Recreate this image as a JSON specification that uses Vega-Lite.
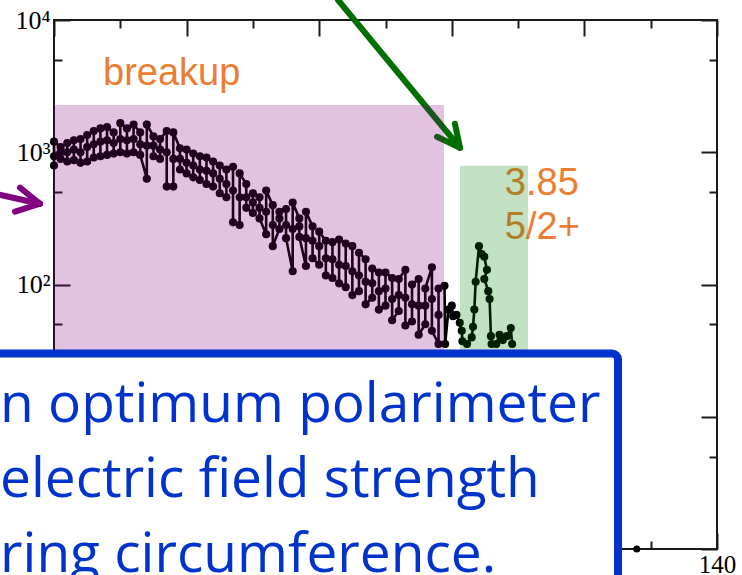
{
  "$schema": "https://vega.github.io/schema/vega-lite/v6.json",
  "width": 663,
  "height": 529,
  "autosize": {"type": "none"},
  "padding": {"left": 54, "top": 20, "right": 25, "bottom": 26},
  "background": "white",
  "config": {
    "view": {"stroke": "#1a1a1a", "strokeWidth": 2},
    "axis": {"grid": false, "domain": false, "labels": false, "tickColor": "#1a1a1a", "tickWidth": 2, "labelFlush": false, "labelOverlap": false}
  },
  "resolve": {"axis": {"x": "independent", "y": "independent"}},
  "datasets": {
    "main": [
      {"x":40,"v":794},{"x":40,"v":933},{"x":40,"v":1202},
      {"x":41,"v":1096},{"x":41,"v":1000},{"x":41,"v":891},
      {"x":42,"v":851},{"x":42,"v":1000},{"x":42,"v":1175},
      {"x":43,"v":1230},{"x":43,"v":1047},{"x":43,"v":871},
      {"x":44,"v":832},{"x":44,"v":1000},{"x":44,"v":1259},
      {"x":45,"v":1349},{"x":45,"v":1096},{"x":45,"v":851},
      {"x":46,"v":912},{"x":46,"v":1148},{"x":46,"v":1445},
      {"x":47,"v":1514},{"x":47,"v":1202},{"x":47,"v":933},
      {"x":48,"v":955},{"x":48,"v":1230},{"x":48,"v":1549},
      {"x":49,"v":1413},{"x":49,"v":1175},{"x":49,"v":977},
      {"x":50,"v":1000},{"x":50,"v":1259},{"x":50,"v":1660},
      {"x":51,"v":1514},{"x":51,"v":1230},{"x":51,"v":977},
      {"x":52,"v":1000},{"x":52,"v":1259},{"x":52,"v":1622},
      {"x":53,"v":1413},{"x":53,"v":1148},{"x":53,"v":955},
      {"x":54,"v":631},{"x":54,"v":1122},{"x":54,"v":1622},
      {"x":55,"v":1318},{"x":55,"v":1122},{"x":55,"v":933},
      {"x":56,"v":891},{"x":56,"v":1047},{"x":56,"v":1259},
      {"x":57,"v":1445},{"x":57,"v":1000},{"x":57,"v":550},
      {"x":58,"v":550},{"x":58,"v":891},{"x":58,"v":1413},
      {"x":59,"v":1072},{"x":59,"v":891},{"x":59,"v":741},
      {"x":60,"v":692},{"x":60,"v":832},{"x":60,"v":1047},
      {"x":61,"v":977},{"x":61,"v":794},{"x":61,"v":646},
      {"x":62,"v":617},{"x":62,"v":741},{"x":62,"v":933},
      {"x":63,"v":912},{"x":63,"v":724},{"x":63,"v":575},
      {"x":64,"v":550},{"x":64,"v":692},{"x":64,"v":851},
      {"x":65,"v":794},{"x":65,"v":631},{"x":65,"v":490},
      {"x":66,"v":457},{"x":66,"v":575},{"x":66,"v":741},
      {"x":67,"v":776},{"x":67,"v":513},{"x":67,"v":295},
      {"x":68,"v":282},{"x":68,"v":457},{"x":68,"v":692},
      {"x":69,"v":575},{"x":69,"v":457},{"x":69,"v":380},
      {"x":70,"v":347},{"x":70,"v":417},{"x":70,"v":490},
      {"x":71,"v":457},{"x":71,"v":380},{"x":71,"v":316},
      {"x":72,"v":240},{"x":72,"v":355},{"x":72,"v":513},
      {"x":73,"v":398},{"x":73,"v":282},{"x":73,"v":195},
      {"x":74,"v":263},{"x":74,"v":316},{"x":74,"v":355},
      {"x":75,"v":372},{"x":75,"v":282},{"x":75,"v":224},
      {"x":76,"v":126},{"x":76,"v":263},{"x":76,"v":417},
      {"x":77,"v":316},{"x":77,"v":275},{"x":77,"v":229},
      {"x":78,"v":138},{"x":78,"v":224},{"x":78,"v":355},
      {"x":79,"v":275},{"x":79,"v":214},{"x":79,"v":158},
      {"x":80,"v":141},{"x":80,"v":195},{"x":80,"v":251},
      {"x":81,"v":214},{"x":81,"v":158},{"x":81,"v":117},
      {"x":82,"v":112},{"x":82,"v":155},{"x":82,"v":209},
      {"x":83,"v":219},{"x":83,"v":141},{"x":83,"v":102},
      {"x":84,"v":95.5},{"x":84,"v":138},{"x":84,"v":204},
      {"x":85,"v":195},{"x":85,"v":126},{"x":85,"v":83.2},
      {"x":86,"v":89.1},{"x":86,"v":117},{"x":86,"v":174},
      {"x":87,"v":155},{"x":87,"v":105},{"x":87,"v":70.8},
      {"x":88,"v":79.4},{"x":88,"v":102},{"x":88,"v":132},
      {"x":89,"v":123},{"x":89,"v":89.1},{"x":89,"v":64.6},
      {"x":90,"v":69.2},{"x":90,"v":93.3},{"x":90,"v":123},
      {"x":91,"v":112},{"x":91,"v":77.6},{"x":91,"v":53.7},
      {"x":92,"v":63.1},{"x":92,"v":83.2},{"x":92,"v":110},
      {"x":93,"v":129},{"x":93,"v":79.4},{"x":93,"v":49.0},
      {"x":94,"v":52.5},{"x":94,"v":70.8},{"x":94,"v":100},
      {"x":95,"v":110},{"x":95,"v":69.2},{"x":95,"v":41.7},
      {"x":96,"v":50.1},{"x":96,"v":69.2},{"x":96,"v":93.3},
      {"x":97,"v":135},{"x":97,"v":77.6},{"x":97,"v":44.7},
      {"x":98,"v":35.5},{"x":98,"v":58.9},{"x":98,"v":93.3},
      {"x":98.9,"v":97.7},{"x":99.0,"v":35.5},{"x":99.5,"v":64.6},
      {"x":100.0,"v":69.2},{"x":100.2,"v":57.5},{"x":100.7,"v":58.9},
      {"x":101.2,"v":51.3},{"x":101.5,"v":44.7},{"x":101.6,"v":37.2},
      {"x":102.3,"v":35.5},{"x":103.0,"v":39.8},{"x":103.2,"v":47.9},
      {"x":103.4,"v":64.6},{"x":103.6,"v":105},{"x":104.1,"v":195},
      {"x":104.5,"v":170},{"x":104.9,"v":162},{"x":105.3,"v":129},
      {"x":104.9,"v":110},{"x":105.5,"v":89.1},{"x":105.7,"v":77.6},
      {"x":105.9,"v":40.7},{"x":106.0,"v":35.5},{"x":106.7,"v":35.5},
      {"x":107.2,"v":41.7},{"x":107.7,"v":38.0},{"x":108.3,"v":40.7},
      {"x":108.9,"v":46.8},{"x":109.1,"v":35.5}
    ],
    "lone": [{"x":127.9,"v":1}],
    "breakup": [{"x":47.4,"v":3228,"t":"breakup"}],
    "orange": [{"x":108.0,"v":477,"t":"3.85"},{"x":108.0,"v":219,"t":"5/2+"}],
    "garrow": [
      {"x":82.84,"v":14160,"x2":101.24,"v2":1081},
      {"x":97.77,"v":1309,"x2":101.24,"v2":1081},
      {"x":100.48,"v":1641,"x2":101.24,"v2":1081}
    ],
    "parrow": [
      {"x":31.1,"v":486,"x2":37.89,"v2":408},
      {"x":34.87,"v":540,"x2":37.89,"v2":408},
      {"x":34.12,"v":356,"x2":37.89,"v2":408}
    ],
    "bands": [
      {"x":40,"x2":98.82,"v":1,"v2":2281,"c":"breakup"},
      {"x":101.24,"x2":111.49,"v":1,"v2":791,"c":"3.85"}
    ],
    "box": [{"x":28.8,"x2":125.07,"v":0.42,"v2":30.1}],
    "boxtext": [{"x":31.86,"v":9.08,"t":"n optimum polarimeter\nelectric field strength\nring circumference."}]
  },
  "layer": [
    {
      "data": {"name": "main"},
      "mark": {"type": "line", "color": "#000000", "strokeWidth": 2.6},
      "encoding": {
        "x": {"field": "x", "type": "quantitative", "scale": {"domain": [40, 140], "nice": false, "zero": false},
              "axis": {"orient": "bottom", "values": [40, 60, 80, 100, 120, 140], "labels": true, "ticks": false, "labelPadding": 3, "title": null,
                       "labelFont": "Liberation Serif", "labelFontSize": 25, "labelColor": "#000000"}},
        "y": {"field": "v", "type": "quantitative", "scale": {"type": "log", "domain": [1, 10000], "nice": false},
              "axis": {"orient": "left", "values": [1, 10, 100, 1000, 10000], "labels": true, "ticks": false, "labelPadding": 4, "title": null,
                       "labelFont": "Liberation Serif", "labelFontSize": 26, "labelColor": "#000000",
                       "labelExpr": "'10' + ['⁰','¹','²','³','⁴'][round(log(datum.value)/LN10)]"}},
        "order": {"value": null}
      }
    },
    {
      "data": {"name": "main"},
      "mark": {"type": "point", "filled": true, "color": "#000000", "size": 66, "opacity": 1},
      "encoding": {
        "x": {"field": "x", "type": "quantitative", "scale": {"domain": [40, 140], "nice": false, "zero": false},
              "axis": {"orient": "bottom", "values": [40, 60, 80, 100, 120, 140], "tickSize": -16, "title": null}},
        "y": {"field": "v", "type": "quantitative", "scale": {"type": "log", "domain": [1, 10000], "nice": false},
              "axis": {"orient": "left", "values": [1, 10, 100, 1000, 10000], "tickSize": -16, "title": null}}
      }
    },
    {
      "data": {"name": "lone"},
      "mark": {"type": "point", "filled": true, "color": "#000000", "size": 50, "opacity": 1},
      "encoding": {
        "x": {"field": "x", "type": "quantitative", "scale": {"domain": [40, 140], "nice": false, "zero": false},
              "axis": {"orient": "bottom", "values": [50, 70, 90, 110, 130], "tickSize": -8, "title": null}},
        "y": {"field": "v", "type": "quantitative", "scale": {"type": "log", "domain": [1, 10000], "nice": false},
              "axis": {"orient": "left", "values": [5, 50, 500, 5000], "tickSize": -8, "title": null}}
      }
    },
    {
      "data": {"name": "breakup"},
      "mark": {"type": "text", "font": "Liberation Sans", "fontSize": 38, "color": "#ED7D31", "align": "left", "baseline": "alphabetic"},
      "encoding": {
        "x": {"field": "x", "type": "quantitative", "scale": {"domain": [40, 140], "nice": false, "zero": false},
              "axis": {"orient": "top", "values": [40, 60, 80, 100, 120, 140], "tickSize": -16, "title": null}},
        "y": {"field": "v", "type": "quantitative", "scale": {"type": "log", "domain": [1, 10000], "nice": false},
              "axis": {"orient": "right", "values": [1, 10, 100, 1000, 10000], "tickSize": -16, "title": null}},
        "text": {"field": "t"}
      }
    },
    {
      "data": {"name": "orange"},
      "mark": {"type": "text", "font": "Liberation Sans", "fontSize": 38, "color": "#ED7D31", "align": "left", "baseline": "alphabetic"},
      "encoding": {
        "x": {"field": "x", "type": "quantitative", "scale": {"domain": [40, 140], "nice": false, "zero": false},
              "axis": {"orient": "top", "values": [50, 70, 90, 110, 130], "tickSize": -8, "title": null}},
        "y": {"field": "v", "type": "quantitative", "scale": {"type": "log", "domain": [1, 10000], "nice": false},
              "axis": {"orient": "right", "values": [5, 50, 500, 5000], "tickSize": -8, "title": null}},
        "text": {"field": "t"}
      }
    },
    {
      "data": {"name": "garrow"},
      "mark": {"type": "rule", "color": "#006E00", "strokeWidth": 6, "strokeCap": "round"},
      "encoding": {
        "x": {"field": "x", "type": "quantitative", "scale": {"domain": [40, 140], "nice": false, "zero": false}, "axis": null},
        "y": {"field": "v", "type": "quantitative", "scale": {"type": "log", "domain": [1, 10000], "nice": false}, "axis": null},
        "x2": {"field": "x2"},
        "y2": {"field": "v2"}
      }
    },
    {
      "data": {"name": "parrow"},
      "mark": {"type": "rule", "color": "#800080", "strokeWidth": 6, "strokeCap": "round"},
      "encoding": {
        "x": {"field": "x", "type": "quantitative", "scale": {"domain": [40, 140], "nice": false, "zero": false}, "axis": null},
        "y": {"field": "v", "type": "quantitative", "scale": {"type": "log", "domain": [1, 10000], "nice": false}, "axis": null},
        "x2": {"field": "x2"},
        "y2": {"field": "v2"}
      }
    },
    {
      "data": {"name": "bands"},
      "mark": {"type": "rect", "opacity": 0.235},
      "encoding": {
        "x": {"field": "x", "type": "quantitative", "scale": {"domain": [40, 140], "nice": false, "zero": false}, "axis": null},
        "x2": {"field": "x2"},
        "y": {"field": "v", "type": "quantitative", "scale": {"type": "log", "domain": [1, 10000], "nice": false}, "axis": null},
        "y2": {"field": "v2"},
        "color": {"field": "c", "type": "nominal", "scale": {"domain": ["breakup", "3.85"], "range": ["#800080", "#008000"]}, "legend": null}
      }
    },
    {
      "data": {"name": "box"},
      "mark": {"type": "rect", "fill": "#ffffff", "stroke": "#0033CC", "strokeWidth": 8, "cornerRadius": 6, "opacity": 1},
      "encoding": {
        "x": {"field": "x", "type": "quantitative", "scale": {"domain": [40, 140], "nice": false, "zero": false}, "axis": null},
        "x2": {"field": "x2"},
        "y": {"field": "v", "type": "quantitative", "scale": {"type": "log", "domain": [1, 10000], "nice": false}, "axis": null},
        "y2": {"field": "v2"}
      }
    },
    {
      "data": {"name": "boxtext"},
      "mark": {"type": "text", "font": "Open Sans", "fontSize": 55, "color": "#0033CC", "align": "left", "baseline": "alphabetic", "lineBreak": "\n", "lineHeight": 75},
      "encoding": {
        "x": {"field": "x", "type": "quantitative", "scale": {"domain": [40, 140], "nice": false, "zero": false}, "axis": null},
        "y": {"field": "v", "type": "quantitative", "scale": {"type": "log", "domain": [1, 10000], "nice": false}, "axis": null},
        "text": {"field": "t"}
      }
    }
  ]
}
